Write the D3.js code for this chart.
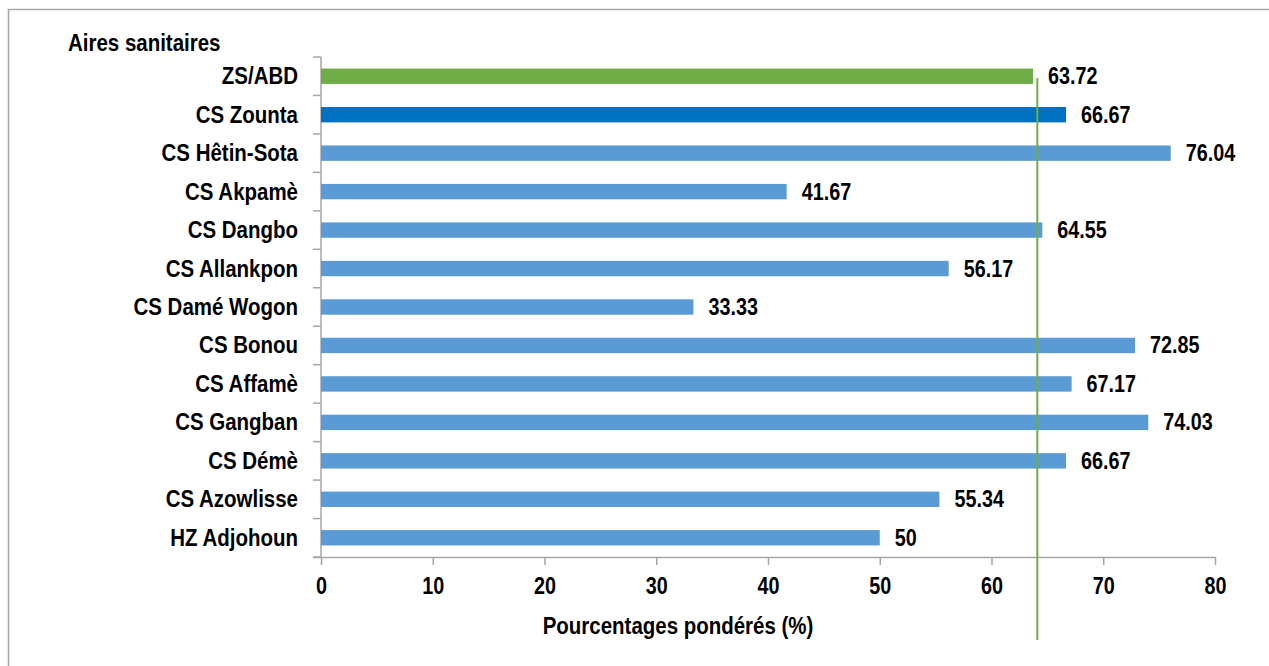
<!DOCTYPE html>
<meta charset="utf-8">
<head lang="fr">
    <title>Aires sanitaires</title>
    <script src="https://d3js.org/d3.v7.min.js"></script>
    <style type="text/css">
        body { margin: 0; background: #fff; }
        svg text {
            font-family: "Liberation Sans", Arial, sans-serif;
            font-weight: bold;
            font-size: 23px;
            fill: #000;
        }
        .axis path, .axis line { stroke: #a6a6a6; }
    </style>
</head>
<body>
<script type="text/javascript">

    // data
    var categories = ["ZS/ABD", "CS Zounta", "CS Hêtin-Sota", "CS Akpamè", "CS Dangbo", "CS Allankpon",
        "CS Damé Wogon", "CS Bonou", "CS Affamè", "CS Gangban", "CS Démè", "CS Azowlisse", "HZ Adjohoun"];
    var values = [63.72, 66.67, 76.04, 41.67, 64.55, 56.17, 33.33, 72.85, 67.17, 74.03, 66.67, 55.34, 50];
    var xTicks = [0, 10, 20, 30, 40, 50, 60, 70, 80];
    var refLine = 64.1; // vertical green reference line

    var width = 1269;
    var height = 666;
    var margin = {top: 57, right: 54, bottom: 109, left: 321};
    var narrow = 0.89;    // squeeze words horizontally to look like a narrow font
    var narrowNum = 0.86; // numbers are a bit tighter

    var svg = d3.select("body")
        .append("svg")
        .attr("width", width)
        .attr("height", height);

    // place a text at (x, y) squeezed horizontally
    function narrowText(g, x, y, anchor, txt, k) {
        return g.append("text")
            .attr("transform", "translate(" + x + "," + y + ") scale(" + (k || narrow) + ",1)")
            .attr("text-anchor", anchor)
            .text(txt);
    }

    // outer frame (runs off the right and bottom edge)
    svg.append("rect")
        .attr("x", 8.5)
        .attr("y", 9.5)
        .attr("width", width)
        .attr("height", height)
        .attr("fill", "none")
        .attr("stroke", "#a6a6a6")
        .attr("stroke-width", 1.5);

    var xScale = d3.scaleLinear()
        .domain([0, 80])
        .range([margin.left, width - margin.right]);
    var yScale = d3.scaleBand()
        .domain(categories)
        .range([margin.top, height - margin.bottom])
        .paddingInner(0.6)
        .paddingOuter(0.3);

    // y axis: ticks at band boundaries on the left
    var y0 = margin.top, y1 = height - margin.bottom;
    var gy = svg.append("g").attr("class", "axis");
    gy.append("line")
        .attr("x1", margin.left).attr("x2", margin.left)
        .attr("y1", y0).attr("y2", y1)
        .attr("stroke-width", 1.5);
    gy.selectAll(".tk")
        .data(d3.range(categories.length + 1))
        .enter().append("line")
        .attr("x1", margin.left - 8).attr("x2", margin.left)
        .attr("y1", function (i) { return y0 + i * (y1 - y0) / categories.length; })
        .attr("y2", function (i) { return y0 + i * (y1 - y0) / categories.length; })
        .attr("stroke-width", 1.5);
    categories.forEach(function (c) {
        narrowText(gy, margin.left - 23, yScale(c) + yScale.bandwidth() / 2 + 8, "end", c);
    });

    // x axis
    var xAxis = d3.axisBottom(xScale)
        .tickValues(xTicks)
        .tickSize(8)
        .tickSizeOuter(0)
        .tickPadding(13)
        .tickFormat(d3.format("d"));
    var gx = svg.append("g")
        .attr("class", "axis")
        .attr("transform", "translate(0," + y1 + ")")
        .call(xAxis);
    gx.select(".domain").attr("stroke-width", 1.5).attr("d", "M" + (margin.left - 8) + ",0.5H" + xScale(80));
    gx.selectAll(".tick line").attr("stroke-width", 1.5);
    gx.selectAll(".tick text")
        .attr("font-size", null)
        .attr("font-family", null)
        .attr("transform", "scale(" + narrowNum + ",1)");

    // bars
    var colors = ["#70ad47", "#0070c0"];
    svg.selectAll(".bar")
        .data(values)
        .enter().append("rect")
        .attr("class", "bar")
        .attr("x", xScale(0))
        .attr("y", function (d, i) { return yScale(categories[i]); })
        .attr("height", yScale.bandwidth())
        .attr("width", function (d) { return xScale(d) - xScale(0); })
        .attr("fill", function (d, i) { return colors[i] || "#5b9bd5"; });

    // value labels
    values.forEach(function (v, i) {
        narrowText(svg, xScale(v) + 15, yScale(categories[i]) + yScale.bandwidth() / 2 + 8, "start", v, narrowNum);
    });

    // reference line
    svg.append("line")
        .attr("x1", xScale(refLine)).attr("x2", xScale(refLine))
        .attr("y1", 78).attr("y2", 640)
        .attr("stroke", "#70ad47")
        .attr("stroke-width", 2);

    // titles
    narrowText(svg, 68, 51, "start", "Aires sanitaires");
    narrowText(svg, 678, 634, "middle", "Pourcentages pondérés (%)");

</script>
</body>
